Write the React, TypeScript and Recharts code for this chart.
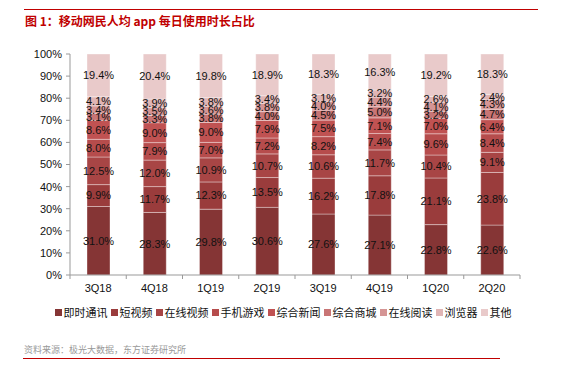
import React from 'react';
import { BarChart, Bar, XAxis, YAxis, LabelList } from 'recharts';

const categories = ['3Q18', '4Q18', '1Q19', '2Q19', '3Q19', '4Q19', '1Q20', '2Q20'];
const seriesNames = ['即时通讯', '短视频', '在线视频', '手机游戏', '综合新闻', '综合商城', '在线阅读', '浏览器', '其他'];
const imValues = [31.0, 28.3, 29.8, 30.6, 27.6, 27.1, 22.8, 22.6];
const shortVideo = [9.9, 11.7, 12.3, 13.5, 16.2, 17.8, 21.1, 23.8];
const onlineVideo = [12.5, 12.0, 10.9, 10.7, 10.6, 11.7, 10.4, 9.1];
const mobileGame = [8.0, 7.9, 7.0, 7.2, 8.2, 7.4, 9.6, 8.4];
const news = [8.6, 9.0, 9.0, 7.9, 7.5, 7.1, 7.0, 6.4];
const mall = [3.1, 3.3, 3.8, 4.0, 4.5, 5.0, 3.2, 4.7];
const reading = [3.4, 3.5, 3.6, 3.8, 4.0, 4.4, 4.1, 4.3];
const browser = [4.1, 3.9, 3.8, 3.4, 3.1, 3.2, 2.6, 2.4];
const others = [19.4, 20.4, 19.8, 18.9, 18.3, 16.3, 19.2, 18.3];
const yTicks = [0, 10, 20, 30, 40, 50, 60, 70, 80, 90, 100];

const seriesValues = [imValues, shortVideo, onlineVideo, mobileGame, news, mall, reading, browser, others];
const colors = ['#853535', '#9A3C3C', '#A84545', '#B64C4C', '#C05252', '#C87575', '#D59595', '#E0B5B5', '#E9CACA'];

const data = categories.map((c, i) => {
  const row: Record<string, string | number> = { name: c };
  seriesNames.forEach((s, k) => {
    row[s] = seriesValues[k][i];
  });
  return row;
});

const FONT = '"Liberation Sans", Arial, sans-serif';
const CJK = '"Noto Sans CJK SC", "Liberation Sans", sans-serif';
const BAND = 450 / categories.length;

const XTick = (props: any) => {
  const { x, y, payload, index } = props;
  const last = index === categories.length - 1;
  return (
    <g>
      <line x1={x - BAND / 2} x2={x - BAND / 2} y1={y} y2={y + 4} stroke="#999" />
      {last && <line x1={x + BAND / 2} x2={x + BAND / 2} y1={y} y2={y + 4} stroke="#999" />}
      <text x={x} y={y + 17} textAnchor="middle" fontSize={11} fontFamily={FONT} fill="#111">
        {payload.value}
      </text>
    </g>
  );
};

export default function App() {
  return (
    <div style={{ position: 'absolute', left: 0, top: 0, width: 563, height: 366, background: '#fff', overflow: 'hidden' }}>
      <div style={{ position: 'absolute', left: 24, top: 9, width: 514, height: 1, background: '#C00000' }} />
      <div
        style={{
          position: 'absolute',
          left: 25,
          top: 13,
          fontSize: 12,
          lineHeight: '16px',
          fontWeight: 'bold',
          color: '#C00000',
          fontFamily: CJK,
          whiteSpace: 'nowrap',
        }}
      >
        图 1：移动网民人均 app 每日使用时长占比
      </div>
      <div style={{ position: 'absolute', left: 0, top: 0 }}>
        <BarChart width={563} height={366} data={data} margin={{ top: 54, right: 43, bottom: 61, left: 0 }}>
          <XAxis
            dataKey="name"
            height={30}
            tickSize={0}
            tickMargin={0}
            axisLine={{ stroke: '#999' }}
            tickLine={false}
            tick={<XTick />}
            interval={0}
          />
          <YAxis
            width={70}
            domain={[0, 100]}
            ticks={yTicks}
            tickFormatter={(v: number) => `${v}%`}
            tickSize={4}
            tickMargin={4}
            axisLine={{ stroke: '#999' }}
            tickLine={{ stroke: '#999' }}
            tick={{ fontSize: 11, fontFamily: FONT, fill: '#111' }}
            interval={0}
          />
          {seriesNames.map((s, k) => (
            <Bar
              key={s}
              dataKey={s}
              stackId="a"
              fill={colors[k]}
              barSize={23}
              stroke="rgba(255,255,255,0.35)"
              strokeWidth={1}
              isAnimationActive={false}
            >
              <LabelList
                dataKey={s}
                position="center"
                formatter={(v: any) => `${Number(v).toFixed(1)}%`}
                style={{ fontSize: 11, fontFamily: FONT, fill: '#111' }}
              />
            </Bar>
          ))}
        </BarChart>
      </div>
      <div
        style={{
          position: 'absolute',
          left: 0,
          top: 304,
          width: 566,
          display: 'flex',
          justifyContent: 'center',
          fontFamily: CJK,
          fontSize: 11,
          lineHeight: '16px',
          color: '#111',
        }}
      >
        {seriesNames.map((s, k) => (
          <div key={s} style={{ display: 'flex', alignItems: 'center', marginRight: k === seriesNames.length - 1 ? 0 : 3 }}>
            <span style={{ display: 'inline-block', width: 7, height: 7, background: colors[k], marginRight: 2 }} />
            <span>{s}</span>
          </div>
        ))}
      </div>
      <div
        style={{
          position: 'absolute',
          left: 24,
          top: 344,
          fontSize: 9,
          lineHeight: '12px',
          color: '#999',
          fontFamily: CJK,
          whiteSpace: 'nowrap',
        }}
      >
        资料来源：极光大数据，东方证券研究所
      </div>
      <div style={{ position: 'absolute', left: 23, top: 358, width: 477, height: 1, background: '#C00000' }} />
    </div>
  );
}
